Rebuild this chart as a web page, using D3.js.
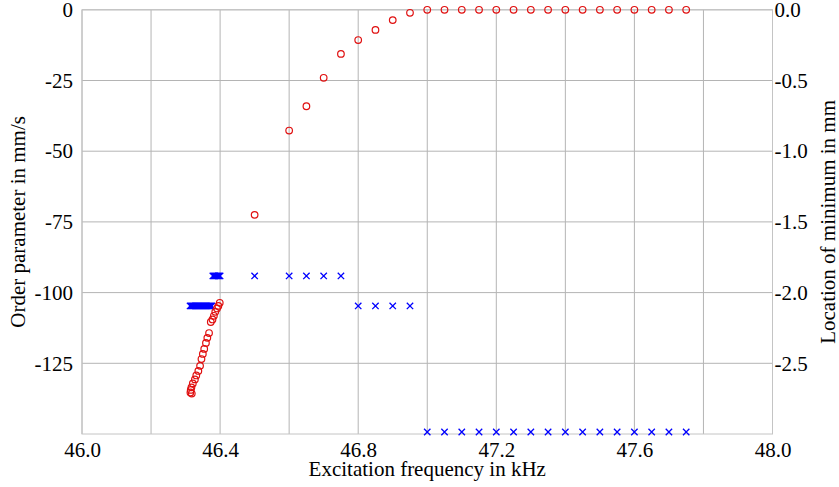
<!DOCTYPE html>
<html>
<head>
<meta charset="utf-8">
<script src="https://cdn.jsdelivr.net/npm/d3@7"></script>
<style>
  body { margin: 0; background: #fff; }
  svg text { font-family: "Liberation Serif", "Times New Roman", serif !important; fill: #000; }
</style>
</head>
<body>
<svg id="chart" width="839" height="487"></svg>
<script>
// ---- data ----
const circleFreq = [
  46.399, 46.395, 46.391, 46.386, 46.382, 46.378, 46.373, 46.368, 46.363, 46.359,
  46.354, 46.350, 46.346, 46.342, 46.337, 46.331, 46.327, 46.321, 46.317, 46.315,
  46.314, 46.318,
  46.50, 46.60, 46.65, 46.70, 46.75, 46.80, 46.85, 46.90, 46.95,
  47.00, 47.05, 47.10, 47.15, 47.20, 47.25, 47.30, 47.35, 47.40, 47.45,
  47.50, 47.55, 47.60, 47.65, 47.70, 47.75
];
const orderParam = [
  -103.6, -104.7, -105.6, -106.8, -108.2, -109.5, -110.4, -114.3, -116.0, -117.8,
  -119.9, -121.7, -123.5, -125.9, -127.7, -129.3, -130.7, -132.1, -133.5, -134.4,
  -135.3, -135.7,
  -72.5, -42.7, -34.1, -24.05, -15.6, -10.7, -7.1, -3.65, -1.06,
  0, 0, 0, 0, 0, 0, 0, 0, 0, 0,
  0, 0, 0, 0, 0, 0
];
const crossFreq = [
  46.400, 46.397, 46.394, 46.391, 46.388, 46.385, 46.382, 46.379,
  46.376, 46.373, 46.370, 46.367, 46.364, 46.361, 46.358, 46.355, 46.352, 46.349,
  46.346, 46.343, 46.340, 46.337, 46.334, 46.331, 46.328, 46.325, 46.322, 46.319,
  46.316, 46.313,
  46.50, 46.60, 46.65, 46.70, 46.75, 46.80, 46.85, 46.90, 46.95,
  47.00, 47.05, 47.10, 47.15, 47.20, 47.25, 47.30, 47.35, 47.40, 47.45,
  47.50, 47.55, 47.60, 47.65, 47.70, 47.75
];
const minLocation = [
  -1.882, -1.882, -1.882, -1.882, -1.882, -1.882, -1.882, -1.882,
  -2.094, -2.094, -2.094, -2.094, -2.094, -2.094, -2.094, -2.094, -2.094, -2.094,
  -2.094, -2.094, -2.094, -2.094, -2.094, -2.094, -2.094, -2.094, -2.094, -2.094,
  -2.094, -2.094,
  -1.882, -1.882, -1.882, -1.882, -1.882, -2.094, -2.094, -2.094, -2.094,
  -2.986, -2.986, -2.986, -2.986, -2.986, -2.986, -2.986, -2.986, -2.986, -2.986,
  -2.986, -2.986, -2.986, -2.986, -2.986, -2.986
];
const xGridTicks = [46.0, 46.2, 46.4, 46.6, 46.8, 47.0, 47.2, 47.4, 47.6, 47.8, 48.0];
const xLabelTicks = [46.0, 46.4, 46.8, 47.2, 47.6, 48.0];
const yLeftTicks = [0, -25, -50, -75, -100, -125];
const yRightTicks = [0.0, -0.5, -1.0, -1.5, -2.0, -2.5];

// ---- layout ----
const FONT = '"Liberation Serif", "Times New Roman", serif';
const svg = d3.select("#chart");
const L = 82, R = 772.5, T = 9.8, B = 434;
const x = d3.scaleLinear().domain([46, 48]).range([L, R]);
const yL = d3.scaleLinear().domain([-150, 0]).range([B, T]);
const yR = d3.scaleLinear().domain([-3, 0]).range([B, T]);

const gridColor = "#b4b4b4";
const g = svg.append("g");

// vertical grid
g.selectAll(".vg").data(xGridTicks).enter().append("line")
  .attr("x1", d => x(d)).attr("x2", d => x(d)).attr("y1", T).attr("y2", B)
  .attr("stroke", gridColor).attr("stroke-width", 1);
// horizontal grid
g.selectAll(".hg").data(yLeftTicks).enter().append("line")
  .attr("x1", L).attr("x2", R).attr("y1", d => yL(d)).attr("y2", d => yL(d))
  .attr("stroke", gridColor).attr("stroke-width", 1);
// frame
g.append("rect").attr("x", L).attr("y", T).attr("width", R - L).attr("height", B - T)
  .attr("fill", "none").attr("stroke", "#c4c4c4").attr("stroke-width", 1);

// axes (hyphen-minus labels as in the reference)
const fmt1 = d => d.toFixed(1);
const fmt0 = d => String(d);
const xAxis = d3.axisBottom(x).tickValues(xLabelTicks).tickFormat(fmt1).tickSize(0).tickPadding(8);
const yAxisL = d3.axisLeft(yL).tickValues(yLeftTicks).tickFormat(fmt0).tickSize(0).tickPadding(9);
const yAxisR = d3.axisRight(yR).tickValues(yRightTicks).tickFormat(fmt1).tickSize(0).tickPadding(2);

function styleAxis(sel) {
  sel.attr("font-family", FONT).attr("font-size", 21);
  sel.select(".domain").remove();
  sel.selectAll("text").attr("fill", "#000");
}
svg.append("g").attr("transform", `translate(0,${B})`).call(xAxis).call(styleAxis);
svg.append("g").attr("transform", `translate(${L},0)`).call(yAxisL).call(styleAxis);
svg.append("g").attr("transform", `translate(${R},0)`).call(yAxisR).call(styleAxis);

// titles
svg.append("text").attr("x", (L + R) / 2).attr("y", 476).attr("text-anchor", "middle")
  .attr("font-family", FONT).attr("font-size", 21).text("Excitation frequency in kHz");
svg.append("text").attr("transform", `translate(25,${(T + B) / 2}) rotate(-90)`)
  .attr("text-anchor", "middle").attr("font-family", FONT).attr("font-size", 21)
  .text("Order parameter in mm/s");
svg.append("text").attr("transform", `translate(835,${(T + B) / 2}) rotate(-90)`)
  .attr("text-anchor", "middle").attr("font-family", FONT).attr("font-size", 21)
  .text("Location of minimum in mm");

// crosses (right axis)
const cs = 3.2;
const crossData = crossFreq.map((f, i) => ({ f, v: minLocation[i] }));
const cg = svg.append("g").attr("stroke", "#0000ff").attr("stroke-width", 1.3);
cg.selectAll("path").data(crossData).enter().append("path")
  .attr("d", d => {
    const px = x(d.f), py = yR(d.v);
    return `M${px - cs},${py - cs}L${px + cs},${py + cs}M${px - cs},${py + cs}L${px + cs},${py - cs}`;
  });

// circles (left axis)
const circData = circleFreq.map((f, i) => ({ f, v: orderParam[i] }));
svg.append("g").selectAll("circle").data(circData).enter().append("circle")
  .attr("cx", d => x(d.f)).attr("cy", d => yL(d.v)).attr("r", 3.3)
  .attr("fill", "none").attr("stroke", "#e01010").attr("stroke-width", 1.2);
</script>
</body>
</html>
